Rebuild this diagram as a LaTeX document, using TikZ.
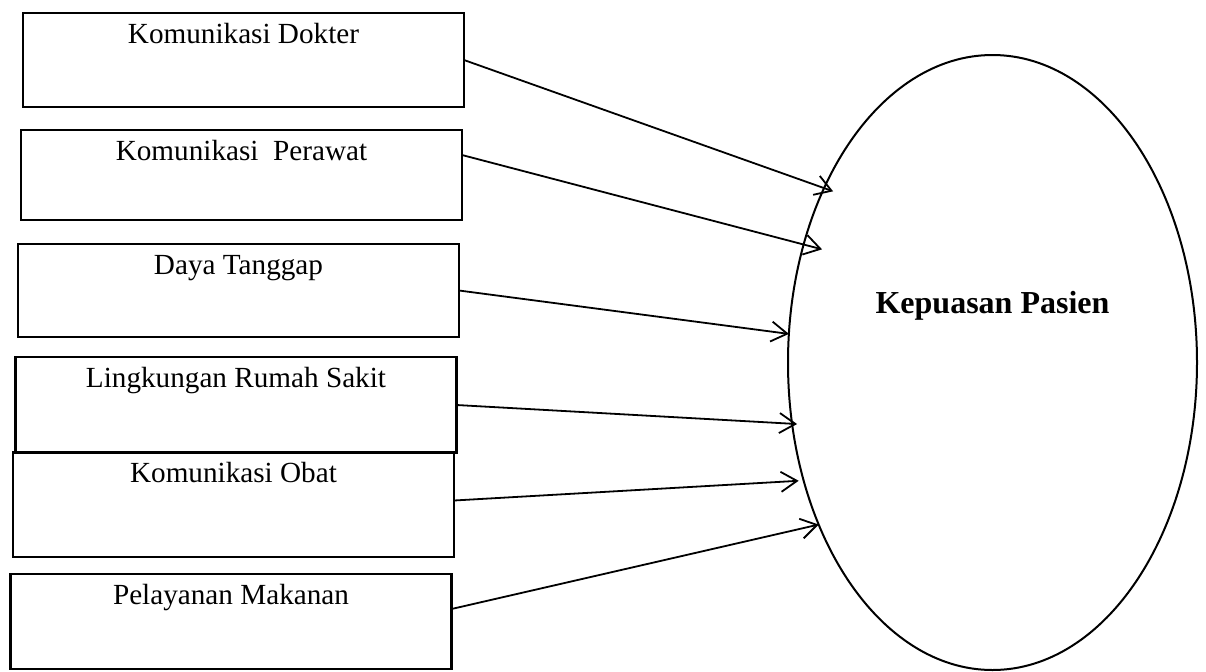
\documentclass[tikz,border=0pt]{standalone}
\usepackage{fontspec}
\setmainfont{Liberation Serif}
\usetikzlibrary{arrows.meta, shapes.geometric}

\tikzset{
  factor/.style={draw, line width=1.3pt, minimum width=220.5pt,
                 inner sep=0pt, outer sep=0pt},
  title/.style={anchor=base, yshift=-15pt, inner sep=0pt,
                font=\fontsize{14.6}{17}\selectfont},
  link/.style={line width=0.9pt, -{Straight Barb[length=8pt, width=10pt]}},
}

\begin{document}
\begin{tikzpicture}[x=0.5pt, y=-0.5pt]
  \useasboundingbox (0,0) rectangle (1206,671);

  % factors on the left
  \node[factor, minimum height=47pt,   label={[title]north:Komunikasi Dokter}]      (dokter)  at (243.5,60)    {};
  \node[factor, minimum height=45pt,   label={[title]north:Komunikasi~\ Perawat}]   (perawat) at (241.5,175)   {};
  \node[factor, minimum height=46.5pt, label={[title]north:Daya Tanggap}]           (tanggap) at (238.5,290.5) {};
  \node[factor, minimum height=48pt,   label={[title]north:Lingkungan Rumah Sakit}] (rs)      at (236,405)     {};
  \node[factor, minimum height=52.5pt, label={[title]north:Komunikasi Obat}]        (obat)    at (233.5,504.5) {};
  \node[factor, minimum height=47.5pt, label={[title]north:Pelayanan Makanan}]      (makan)   at (231,621.5)   {};

  % outcome
  \node[ellipse, draw, line width=1pt, minimum width=204.5pt, minimum height=307.5pt,
        inner sep=0pt, outer sep=0pt,
        label={[anchor=base, yshift=-129pt, inner sep=0pt,
                font=\bfseries\fontsize{16}{19}\selectfont]north:Kepuasan Pasien}]
        (puas) at (992.5,362.5) {};

  \draw[link, shorten >=-4.8pt] (dokter.east) -- (puas.134.5);
  \draw[link, shorten >=-9.5pt] ([yshift=10pt]perawat.east) -- (puas.148.1);
  \draw[link] (tanggap.east) -- (puas.172.9);
  \draw[link, shorten >=-2.5pt] (rs.east) -- (puas.197.9);
  \draw[link, shorten >=2.5pt] ([yshift=2pt]obat.east) -- (puas.212.1);
  \draw[link] ([yshift=6.25pt]makan.east) -- (puas.223.8);
\end{tikzpicture}
\end{document}
